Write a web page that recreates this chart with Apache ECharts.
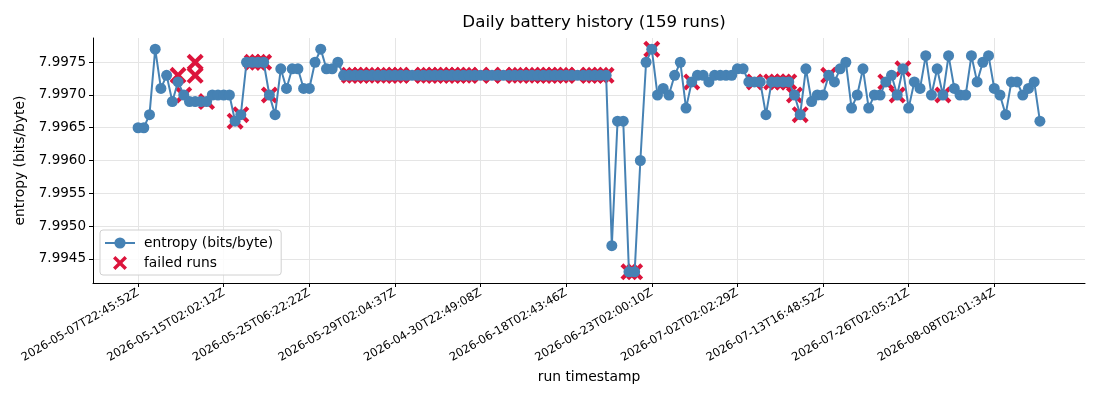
<!DOCTYPE html>
<html>
<head>
<meta charset="utf-8">
<script src="https://cdn.jsdelivr.net/npm/echarts@6/dist/echarts.min.js"></script>
<style>
html,body{margin:0;padding:0;background:#fff;}
#chart{width:1100px;height:400px;}
</style>
</head>
<body>
<div id="chart"></div>
<script>
// ---- data ----
const tickIndices = [0, 15, 30, 45, 60, 75, 90, 105, 120, 135, 150];
const tickLabels = [
  "2026-05-07T22:45:52Z", "2026-05-15T02:02:12Z", "2026-05-25T06:22:22Z",
  "2026-05-29T02:04:37Z", "2026-04-30T22:49:08Z", "2026-06-18T02:43:46Z",
  "2026-06-23T02:00:10Z", "2026-07-02T02:02:29Z", "2026-07-13T16:48:52Z",
  "2026-07-26T02:05:21Z", "2026-08-08T02:01:34Z"
];
const yTicks = [7.9945, 7.9950, 7.9955, 7.9960, 7.9965, 7.9970, 7.9975];

const entropyStart = [
  7.9965, 7.9965, 7.9967, 7.9977, 7.9971, 7.9973, 7.9969, 7.9972, 7.9970, 7.9969,
  7.9969, 7.9969, 7.9969, 7.9970, 7.9970, 7.9970, 7.9970, 7.9966, 7.9967, 7.9975,
  7.9975, 7.9975, 7.9975, 7.9970, 7.9967, 7.9974, 7.9971, 7.9974, 7.9974, 7.9971,
  7.9971, 7.9975, 7.9977, 7.9974, 7.9974, 7.9975
];
const entropyPlateau = [
  7.9973, 7.9973, 7.9973, 7.9973, 7.9973, 7.9973, 7.9973, 7.9973, 7.9973, 7.9973,
  7.9973, 7.9973, 7.9973, 7.9973, 7.9973, 7.9973, 7.9973, 7.9973, 7.9973, 7.9973,
  7.9973, 7.9973, 7.9973, 7.9973, 7.9973, 7.9973, 7.9973, 7.9973, 7.9973, 7.9973,
  7.9973, 7.9973, 7.9973, 7.9973, 7.9973, 7.9973, 7.9973, 7.9973, 7.9973, 7.9973,
  7.9973, 7.9973, 7.9973, 7.9973, 7.9973, 7.9973, 7.9973
];
const entropyEnd = [
  7.9947, 7.9966, 7.9966, 7.9943, 7.9943, 7.9960, 7.9975, 7.9977, 7.9970, 7.9971,
  7.9970, 7.9973, 7.9975, 7.9968, 7.9972, 7.9973, 7.9973, 7.9972, 7.9973, 7.9973,
  7.9973, 7.9973, 7.9974, 7.9974, 7.9972, 7.9972, 7.9972, 7.9967, 7.9972, 7.9972,
  7.9972, 7.9972, 7.9970, 7.9967, 7.9974, 7.9969, 7.9970, 7.9970, 7.9973, 7.9972,
  7.9974, 7.9975, 7.9968, 7.9970, 7.9974, 7.9968, 7.9970, 7.9970, 7.9972, 7.9973,
  7.9970, 7.9974, 7.9968, 7.9972, 7.9971, 7.9976, 7.9970, 7.9974, 7.9970, 7.9976,
  7.9971, 7.9970, 7.9970, 7.9976, 7.9972, 7.9975, 7.9976, 7.9971, 7.9970, 7.9967,
  7.9972, 7.9972, 7.9970, 7.9971, 7.9972, 7.9966
];
const entropy = entropyStart.concat(entropyPlateau, entropyEnd);

const failedIndex = [
  7, 8, 10, 10, 12, 17, 18, 20, 21, 22, 23,
  37, 38, 39, 40, 41, 43, 44, 45, 46, 48, 50, 51, 52, 53, 54, 55, 56, 57, 58,
  60, 62, 64, 66, 67, 69, 70, 71, 72, 73, 74, 75, 77, 79, 80, 81, 82,
  86, 87, 90, 97, 108, 111, 112, 113, 114, 115, 116, 121, 131, 133, 134, 141
];
const failedValue = [
  7.9973, 7.9970, 7.9975, 7.9973, 7.9969, 7.9966, 7.9967, 7.9975, 7.9975, 7.9975, 7.9970,
  7.9973, 7.9973, 7.9973, 7.9973, 7.9973, 7.9973, 7.9973, 7.9973, 7.9973, 7.9973, 7.9973, 7.9973, 7.9973, 7.9973, 7.9973, 7.9973, 7.9973, 7.9973, 7.9973,
  7.9973, 7.9973, 7.9973, 7.9973, 7.9973, 7.9973, 7.9973, 7.9973, 7.9973, 7.9973, 7.9973, 7.9973, 7.9973, 7.9973, 7.9973, 7.9973, 7.9973,
  7.9943, 7.9943, 7.9977, 7.9972, 7.9972, 7.9972, 7.9972, 7.9972, 7.9972, 7.9970, 7.9967, 7.9973, 7.9972, 7.9970, 7.9974, 7.9970
];

// ---- chart ----
const labelMap = {};
tickIndices.forEach((v, i) => { labelMap[v] = tickLabels[i]; });
const lineData = entropy.map((v, i) => [i, v]);
const failedData = failedIndex.map((v, i) => [v, failedValue[i]]);
const n = entropy.length;
const xPad = (n - 1) * 0.05;
const yMin = Math.min(...entropy), yMax = Math.max(...entropy);
const yPad = (yMax - yMin) * 0.05;

const FONT = 'DejaVu Sans';
const xPath = 'path://M0,1.7 L1.7,0 L5,3.3 L8.3,0 L10,1.7 L6.7,5 L10,8.3 L8.3,10 L5,6.7 L1.7,10 L0,8.3 L3.3,5 Z';

const chart = echarts.init(document.getElementById('chart'), null, {renderer: 'canvas'});
chart.setOption({
  animation: false,
  backgroundColor: '#ffffff',
  textStyle: {fontFamily: FONT},
  title: {
    text: 'Daily battery history (159 runs)',
    left: 589, top: 9, textAlign: 'center',
    textStyle: {fontFamily: FONT, fontSize: 16.7, fontWeight: 'normal', color: '#000'}
  },
  grid: {left: 93, right: 15, top: 38, bottom: 117, containLabel: false},
  legend: {
    orient: 'vertical', left: 100, top: 230,
    itemWidth: 30, itemHeight: 14, itemGap: 6,
    padding: [6, 8, 5, 4],
    backgroundColor: 'rgba(255,255,255,0.85)',
    borderColor: '#d0d0d0', borderWidth: 1, borderRadius: 3,
    textStyle: {fontFamily: FONT, fontSize: 13.8, color: '#000', padding: [0, 0, 0, 4]},
    data: ['entropy (bits/byte)', 'failed runs']
  },
  xAxis: {
    type: 'value', min: -xPad, max: (n - 1) + xPad,
    name: 'run timestamp', nameLocation: 'middle', nameGap: 87,
    nameTextStyle: {fontFamily: FONT, fontSize: 13.9, color: '#000'},
    axisLine: {show: true, onZero: false, lineStyle: {color: '#000', width: 1}},
    axisTick: {show: true, length: 4, customValues: tickIndices, lineStyle: {color: '#000'}},
    axisLabel: {
      customValues: tickIndices, rotate: 30, margin: 9,
      fontFamily: FONT, fontSize: 11.5, color: '#000',
      formatter: v => labelMap[Math.round(v)] || ''
    },
    splitLine: {show: true, lineStyle: {color: '#e5e5e5', width: 1}}
  },
  yAxis: {
    type: 'value', min: yMin - yPad, max: yMax + yPad,
    name: 'entropy (bits/byte)', nameLocation: 'middle', nameGap: 66, nameRotate: 90,
    nameTextStyle: {fontFamily: FONT, fontSize: 13.9, color: '#000'},
    axisLine: {show: true, onZero: false, lineStyle: {color: '#000', width: 1}},
    axisTick: {show: true, length: 4, customValues: yTicks, lineStyle: {color: '#000'}},
    axisLabel: {
      customValues: yTicks, margin: 7,
      fontFamily: FONT, fontSize: 13.5, color: '#000',
      formatter: v => v.toFixed(4)
    },
    splitLine: {show: true, lineStyle: {color: '#e5e5e5', width: 1}}
  },
  series: [
    {
      name: 'entropy (bits/byte)', type: 'line', data: lineData, z: 3,
      symbol: 'circle', symbolSize: 11, showSymbol: true,
      lineStyle: {color: '#4682b4', width: 2},
      itemStyle: {color: '#4682b4', borderWidth: 0}
    },
    {
      name: 'failed runs', type: 'scatter', data: failedData, z: 2,
      symbol: xPath, symbolSize: 17,
      itemStyle: {color: '#dc143c', opacity: 1}
    }
  ]
});
</script>
</body>
</html>
